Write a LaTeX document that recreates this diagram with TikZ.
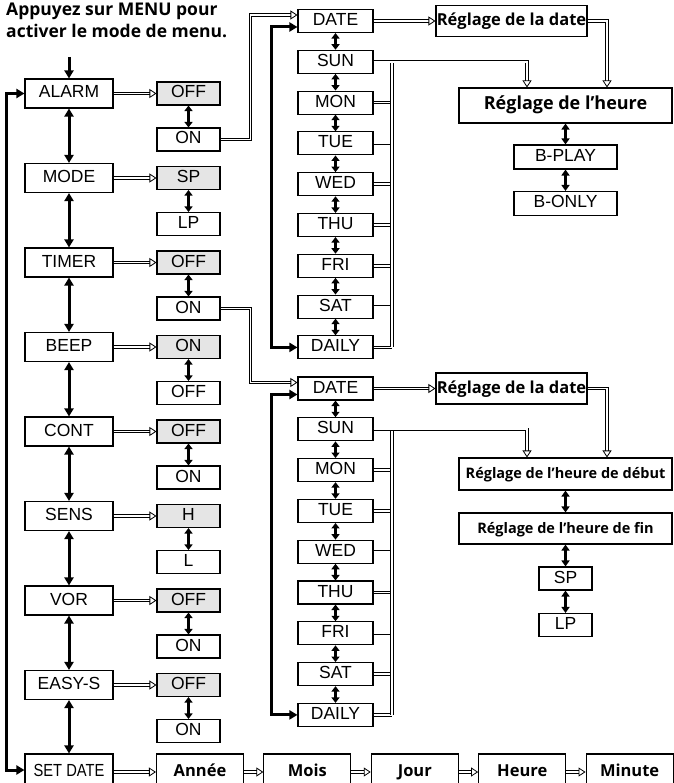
\documentclass[tikz,border=0pt]{standalone}
\usepackage{fontspec}
\setmainfont{Liberation Sans}
\newfontfamily\boldfont{Open Sans}
\usetikzlibrary{arrows.meta,positioning,calc}

\begin{document}
\begin{tikzpicture}[x=1pt,y=-1pt,font=\fontsize{17.5}{19}\selectfont,
   bx/.style={draw,line width=1.1pt,inner sep=0pt,text height=12.5pt,text depth=3.5pt},
   mainbx/.style={bx,minimum width=88pt,minimum height=29pt},
   subbx/.style={bx,minimum width=63pt,minimum height=23pt},
   selbx/.style={subbx,fill=black!10},
   daybx/.style={bx,minimum width=75pt,minimum height=23pt},
   setbx/.style={bx,font=\boldfont\bfseries\fontsize{#1}{20}\selectfont},
   setbx/.default=16.5,
   thk/.style={line width=3pt,-{Triangle[length=8pt,width=9pt]}},
   thkboth/.style={line width=3pt,{Triangle[length=8pt,width=9pt]}-{Triangle[length=8pt,width=9pt]}},
   med/.style={line width=2.6pt,{Triangle[length=6pt,width=8pt]}-{Triangle[length=6pt,width=8pt]}},
   sml/.style={line width=2.4pt,{Triangle[length=5.5pt,width=8pt]}-{Triangle[length=5.5pt,width=8pt]}},
   dblline/.style={double,line width=0.8pt,double distance=1.8pt},
   dbl/.style={dblline,-{Triangle[open,length=7pt,width=9pt]}}]
  \useasboundingbox (0,0) rectangle (673,783);

  % title and entry
  \node[anchor=north west,align=left,inner sep=0pt,
        font=\boldfont\bfseries\fontsize{17.5}{22}\selectfont] (menutxt) at (6,3)
     {Appuyez sur MENU pour\\activer le mode de menu.};
  \coordinate (menu) at (69,57);

  % menu column with its settings
  \foreach \nm/\lbl/\a/\b [count=\i from 0] in {alarm/ALARM/OFF/ON,mode/MODE/SP/LP,
      timer/TIMER/OFF/ON,beep/BEEP/ON/OFF,cont/CONT/OFF/ON,sens/SENS/H/L,
      vor/VOR/OFF/ON,easys/EASY-S/OFF/ON}{
    \node[mainbx] (\nm) at (69,93.5+84.5*\i) {\lbl};
    \node[selbx] (\nm-a) at (188.5,93.5+84.5*\i) {\a};
    \node[subbx] (\nm-b) at (188.5,139.5+84.5*\i) {\b};
    \draw[dbl] (\nm) -- (\nm-a);
    \draw[sml] (\nm-a) -- (\nm-b);
  }
  \node[mainbx,minimum height=36pt] (setdate) at (69,772) {\scalebox{0.84}[1]{SET DATE}};
  \draw[thk] (menu) -- (alarm);
  \foreach \p/\q in {alarm/mode,mode/timer,timer/beep,beep/cont,cont/sens,
      sens/vor,vor/easys,easys/setdate}
    \draw[thkboth] (\p) -- (\q);
  \draw[thkboth] (alarm.west) -- ++(-18,0) |- ([yshift=2pt]setdate.west);

  % date and time row
  \foreach \nm/\lbl [count=\i from 0] in {annee/Année,mois/Mois,jour/Jour,heure/Heure,minute/Minute}
    \node[setbx,minimum width=87pt,minimum height=36pt] (\nm) at (200+107.4*\i,772) {\lbl};
  \foreach \p/\q in {setdate/annee,annee/mois,mois/jour,jour/heure,heure/minute}
    \draw[dbl] (\p) -- (\q);

  % the two day lists
  \foreach \g/\y in {1/21,2/388.5}{
    \foreach \lbl [count=\i from 0] in {DATE,SUN,MON,TUE,WED,THU,FRI,SAT,DAILY}
      \node[daybx] (d\g-\i) at (335.5,\y+40.8*\i) {\lbl};
    \foreach \i [count=\j from 1] in {0,...,7}
      \draw[sml] (d\g-\i) -- (d\g-\j);
    \draw[thkboth] ([yshift=-6pt]d\g-0.west) -- ++(-26,0) |- (d\g-8.west);
    \node[setbx,minimum width=151pt,minimum height=31pt] (rd\g) at (511.5,\y) {Réglage de la date};
    \draw[dbl] (d\g-0) -- (rd\g);
    \coordinate (bus\g) at (392,0);
    \foreach \i in {2,...,8}
      \draw[dblline] (d\g-\i.east) -- (d\g-\i.east -| bus\g);
    \draw[dblline] (d\g-1.east -| bus\g) -- (d\g-8.east -| bus\g);
  }
  \draw[dbl] (alarm-b.east) -- ++(30,0) |- ([yshift=6pt]d1-0.west);
  \draw[dbl] (timer-b.east) -- ++(30,0) |- ([yshift=6pt]d2-0.west);

  % clock setting, alarm side
  \node[setbx=18,minimum width=213pt,minimum height=35pt] (rh1) at (565.5,105.5) {Réglage de l’heure};
  \node[bx,minimum width=103pt,minimum height=24pt] (bplay) at (565.5,157) {B-PLAY};
  \node[bx,minimum width=103pt,minimum height=24pt] (bonly) at (565.5,203.5) {B-ONLY};
  \draw[med] (rh1) -- (bplay);
  \draw[med] (bplay) -- (bonly);

  % clock setting, timer side
  \node[setbx=14.5,minimum width=213pt,minimum height=32pt] (rh2) at (565.5,474) {Réglage de l’heure de début};
  \node[setbx=14.5,minimum width=213pt,minimum height=31pt] (rf) at (565.5,528.5) {Réglage de l’heure de fin};
  \node[bx,minimum width=53pt,minimum height=23pt] (tsp) at (565.5,578.5) {SP};
  \node[bx,minimum width=53pt,minimum height=23pt] (tlp) at (565.5,625) {LP};
  \draw[med] (rh2) -- (rf);
  \draw[med] (rf) -- (tsp);
  \draw[med] (tsp) -- (tlp);

  \foreach \g in {1,2}{
    \draw[dbl] (d\g-1.east) -| ([xshift=-38.5pt]rh\g.north);
    \draw[dbl] (rd\g.east) -| ([xshift=41.5pt]rh\g.north);
  }
\end{tikzpicture}
\end{document}
